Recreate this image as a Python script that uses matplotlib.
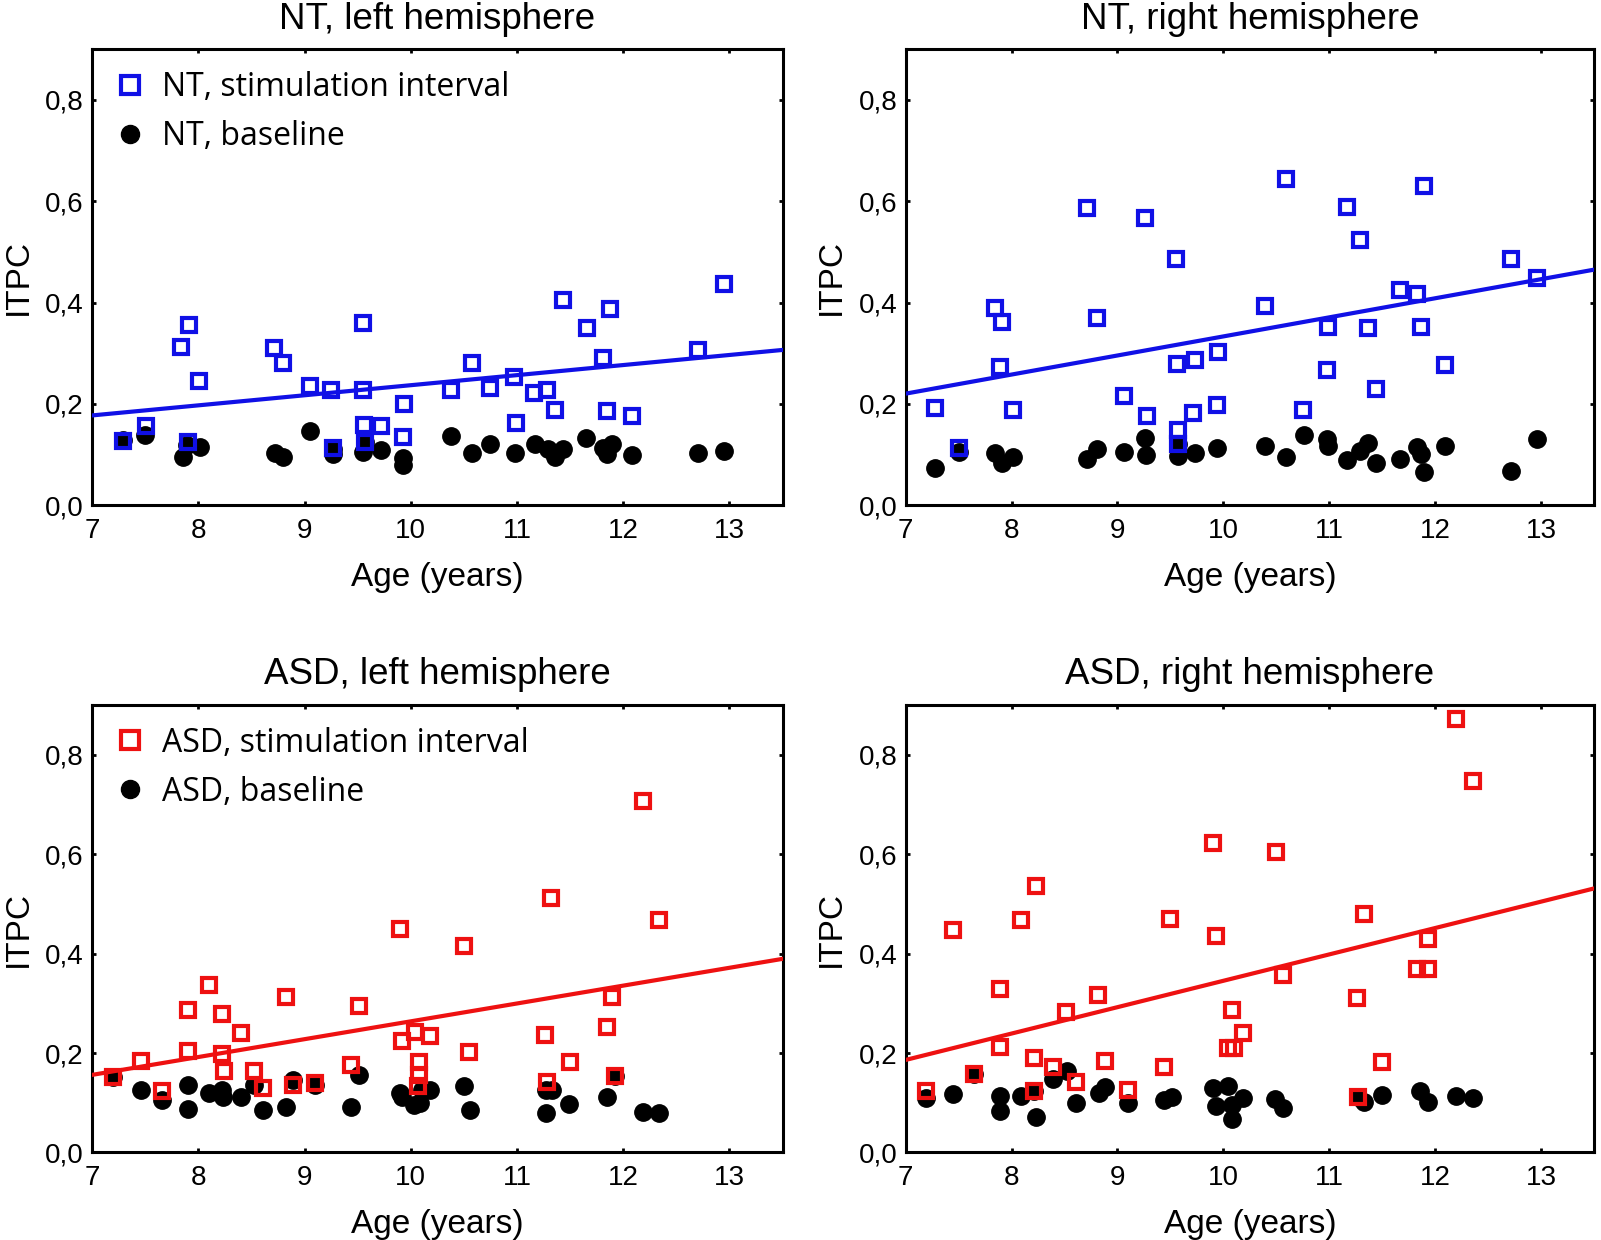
import numpy as np
import matplotlib.pyplot as plt
from matplotlib.ticker import FuncFormatter

# NT, left hemisphere
nt_l_stim_age = [7.29, 7.51, 7.91, 7.84, 8.01, 7.90, 8.71, 8.80, 9.05, 9.25, 9.55, 9.55, 9.27, 9.56, 9.72, 9.57, 9.94, 9.93,
                 10.38, 10.58, 10.75, 10.97, 10.99, 11.16, 11.28, 11.36, 11.43, 11.66, 11.88, 11.81, 11.85, 12.08, 12.70, 12.95]
nt_l_stim_itpc = [0.126, 0.156, 0.356, 0.312, 0.245, 0.125, 0.311, 0.280, 0.235, 0.227, 0.359, 0.228, 0.112, 0.159, 0.156, 0.125, 0.199, 0.135,
                  0.227, 0.280, 0.231, 0.252, 0.162, 0.221, 0.227, 0.187, 0.405, 0.350, 0.388, 0.290, 0.185, 0.176, 0.307, 0.437]
nt_l_base_age = [7.29, 7.50, 7.89, 8.02, 7.86, 9.05, 8.72, 8.80, 9.27, 9.27, 9.57, 9.55, 9.72, 9.93, 9.93,
                 10.38, 10.58, 10.75, 10.98, 11.17, 11.29, 11.36, 11.43, 11.65, 11.81, 11.89, 11.85, 12.08, 12.70, 12.95]
nt_l_base_itpc = [0.128, 0.138, 0.118, 0.115, 0.095, 0.146, 0.102, 0.094, 0.110, 0.100, 0.125, 0.105, 0.108, 0.092, 0.079,
                  0.136, 0.102, 0.120, 0.103, 0.121, 0.110, 0.094, 0.110, 0.133, 0.112, 0.120, 0.100, 0.098, 0.103, 0.106]
nt_l_fit = (0.0377, 0.0199)  # intercept, slope

# NT, right hemisphere
nt_r_stim_age = [7.28, 7.50, 7.84, 7.91, 7.89, 8.01, 8.71, 8.81, 9.26, 9.06, 9.28, 9.55, 9.56, 9.73, 9.95, 9.71, 9.94, 9.57, 9.57,
                 10.59, 11.89, 11.17, 11.29, 10.39, 10.99, 11.36, 11.67, 11.83, 11.86, 10.98, 11.44, 12.09, 10.75, 12.71, 12.96]
nt_r_stim_itpc = [0.192, 0.113, 0.390, 0.362, 0.273, 0.187, 0.587, 0.370, 0.566, 0.215, 0.175, 0.486, 0.279, 0.287, 0.302, 0.182, 0.197, 0.148, 0.121,
                  0.643, 0.630, 0.588, 0.524, 0.393, 0.352, 0.350, 0.424, 0.416, 0.352, 0.267, 0.230, 0.276, 0.187, 0.485, 0.449]
nt_r_base_age = [7.28, 7.50, 7.84, 7.91, 8.01, 8.71, 8.81, 9.06, 9.26, 9.27, 9.57, 9.57, 9.73, 9.94,
                 10.39, 10.59, 10.76, 10.98, 10.99, 11.17, 11.29, 11.36, 11.44, 11.67, 11.83, 11.86, 11.89, 12.09, 12.71, 12.96]
nt_r_base_itpc = [0.073, 0.105, 0.103, 0.084, 0.095, 0.090, 0.110, 0.105, 0.133, 0.098, 0.097, 0.120, 0.103, 0.113,
                  0.117, 0.094, 0.138, 0.130, 0.117, 0.088, 0.106, 0.123, 0.083, 0.090, 0.115, 0.101, 0.065, 0.117, 0.067, 0.130]
nt_r_fit = (-0.0439, 0.0377)

# ASD, left hemisphere
asd_l_stim_age = [7.20, 7.46, 7.66, 7.90, 7.90, 8.10, 8.22, 8.22, 8.24, 8.40, 8.52, 8.61, 8.83, 8.89, 9.10, 9.51, 9.44,
                  9.90, 9.92, 10.04, 10.18, 10.08, 10.08, 10.07, 10.50, 10.55, 11.32, 11.26, 11.50, 11.28, 11.89, 11.85, 11.92, 12.19, 12.34]
asd_l_stim_itpc = [0.151, 0.183, 0.123, 0.286, 0.205, 0.336, 0.279, 0.197, 0.163, 0.240, 0.164, 0.129, 0.313, 0.136, 0.140, 0.294, 0.176,
                   0.450, 0.225, 0.243, 0.235, 0.181, 0.156, 0.133, 0.415, 0.203, 0.512, 0.237, 0.182, 0.141, 0.312, 0.252, 0.153, 0.707, 0.467]
asd_l_base_age = [7.20, 7.46, 7.66, 7.90, 7.90, 8.10, 8.22, 8.23, 8.40, 8.52, 8.61, 8.83, 8.89, 9.10, 9.44, 9.51,
                  9.90, 9.92, 10.03, 10.11, 10.18, 10.09, 10.50, 10.56, 11.27, 11.33, 11.27, 11.49, 11.92, 11.85, 12.19, 12.34]
asd_l_base_itpc = [0.151, 0.126, 0.106, 0.136, 0.087, 0.119, 0.126, 0.111, 0.112, 0.136, 0.086, 0.091, 0.146, 0.136, 0.092, 0.156,
                   0.119, 0.111, 0.096, 0.126, 0.126, 0.100, 0.134, 0.086, 0.126, 0.125, 0.080, 0.098, 0.153, 0.111, 0.081, 0.079]
asd_l_fit = (-0.0953, 0.0359)

# ASD, right hemisphere
asd_r_stim_age = [7.19, 7.45, 7.65, 7.89, 7.89, 8.09, 8.23, 8.21, 8.21, 8.39, 8.51, 8.61, 8.82, 8.88, 9.10, 9.44, 9.50, 9.90, 9.93,
                  12.19, 12.35, 10.50, 11.33, 11.93, 10.56, 11.26, 11.83, 11.93, 10.08, 10.18, 10.04, 10.10, 11.50, 11.27]
asd_r_stim_itpc = [0.123, 0.447, 0.158, 0.329, 0.213, 0.467, 0.536, 0.190, 0.124, 0.172, 0.282, 0.141, 0.316, 0.183, 0.126, 0.172, 0.470, 0.622, 0.435,
                   0.871, 0.748, 0.604, 0.480, 0.430, 0.356, 0.311, 0.369, 0.369, 0.287, 0.240, 0.210, 0.210, 0.181, 0.111]
asd_r_base_age = [7.19, 7.45, 7.65, 7.89, 7.89, 8.09, 8.23, 8.21, 8.39, 8.52, 8.61, 8.83, 8.88, 9.10, 9.44, 9.51, 9.90, 9.93,
                  10.04, 10.18, 10.08, 10.08, 10.49, 10.56, 11.33, 11.27, 11.50, 11.85, 11.93, 12.19, 12.35]
asd_r_base_itpc = [0.109, 0.118, 0.158, 0.114, 0.084, 0.114, 0.071, 0.124, 0.148, 0.163, 0.100, 0.119, 0.131, 0.100, 0.106, 0.111, 0.129, 0.094,
                   0.133, 0.109, 0.096, 0.067, 0.107, 0.089, 0.102, 0.111, 0.116, 0.123, 0.102, 0.114, 0.109]
asd_r_fit = (-0.1857, 0.0531)

x_ticks = [7, 8, 9, 10, 11, 12, 13]
y_ticks = [0.0, 0.2, 0.4, 0.6, 0.8]

BLUE = '#1010e6'
RED = '#ee1111'
lab_font = 'Liberation Sans'
leg_font = 'Open Sans'

panels = [
    ('NT, left hemisphere', nt_l_stim_age, nt_l_stim_itpc, nt_l_base_age, nt_l_base_itpc, nt_l_fit, BLUE, 'NT',
     [0.0575, 0.5927, 0.4313, 0.3675]),
    ('NT, right hemisphere', nt_r_stim_age, nt_r_stim_itpc, nt_r_base_age, nt_r_base_itpc, nt_r_fit, BLUE, None,
     [0.5656, 0.5927, 0.4303, 0.3675]),
    ('ASD, left hemisphere', asd_l_stim_age, asd_l_stim_itpc, asd_l_base_age, asd_l_base_itpc, asd_l_fit, RED, 'ASD',
     [0.0575, 0.0706, 0.4313, 0.3609]),
    ('ASD, right hemisphere', asd_r_stim_age, asd_r_stim_itpc, asd_r_base_age, asd_r_base_itpc, asd_r_fit, RED, None,
     [0.5656, 0.0706, 0.4303, 0.3609]),
]

fig = plt.figure(figsize=(16.01, 12.40), dpi=100)

for title, sa, si, ba, bi, fit, col, leg, rect in panels:
    ax = fig.add_axes(rect)
    ax.plot(ba, bi, 'o', color='black', markersize=12.5, zorder=2)
    ax.plot(sa, si, 's', mfc='none', mec=col, markersize=10.5, mew=3.0, zorder=3)
    xx = np.array([7.0, 13.5])
    ax.plot(xx, fit[0] + fit[1] * xx, '-', color=col, lw=3.0, zorder=4)
    ax.set_xlim(7, 13.5)
    ax.set_ylim(0, 0.9)
    ax.set_xticks(x_ticks)
    ax.set_yticks(y_ticks)
    ax.yaxis.set_major_formatter(FuncFormatter(lambda v, p: ('%.1f' % v).replace('.', ',')))
    ax.tick_params(direction='in', length=3, width=2, top=True, right=True, labelsize=20)
    ax.tick_params(axis='x', pad=9)
    ax.tick_params(axis='y', pad=6)
    for lbl in ax.get_xticklabels() + ax.get_yticklabels():
        lbl.set_fontfamily(lab_font)
    for s in ax.spines.values():
        s.set_linewidth(2.2)
    ax.set_title(title, fontsize=26.5, family=lab_font, pad=15)
    ax.set_xlabel('Age (years)', fontsize=24, family=lab_font, labelpad=13)
    ax.set_ylabel('ITPC', fontsize=24, family=lab_font, labelpad=8)
    if leg:
        h1, = ax.plot([], [], 's', mfc='none', mec=col, markersize=12.5, mew=3.0)
        h2, = ax.plot([], [], 'o', color='black', markersize=13)
        ax.legend([h1, h2], [leg + ', stimulation interval', leg + ', baseline'], loc='upper left',
                  frameon=False, prop={'family': leg_font, 'size': 23}, handlelength=1.0,
                  handletextpad=0.5, borderaxespad=0.0, labelspacing=0.5,
                  bbox_to_anchor=(0.013, 0.98))

fig.savefig('out.png', dpi=100)
